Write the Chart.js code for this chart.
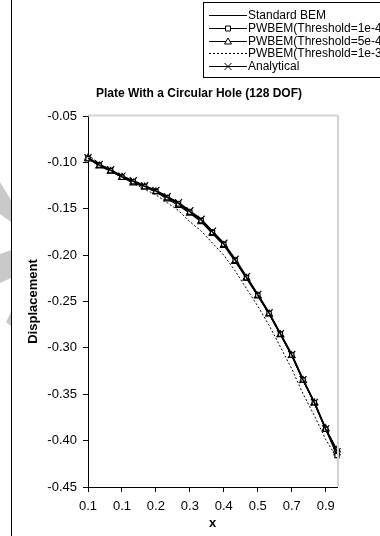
<!DOCTYPE html>
<html>
<head>
<meta charset="utf-8">
<style>
  body { margin: 0; background: #fff; }
  canvas { display: block; }
</style>
<script src="https://cdn.jsdelivr.net/npm/chart.js@4.4.1/dist/chart.umd.min.js"></script>
</head>
<body>
<canvas id="grafico" width="380" height="536"></canvas>
<script>
// x categories (rounded as on the axis), only every 3rd is labelled
const xLabels = ['0.1','0.1','0.1','0.1','0.2','0.2','0.2','0.3','0.3','0.3','0.4','0.4',
                 '0.4','0.5','0.5','0.5','0.6','0.7','0.7','0.8','0.8','0.9','0.9'];

const standardBem = [-0.0956,-0.1028,-0.1085,-0.1154,-0.1204,-0.1258,-0.1308,-0.1376,-0.1441,-0.1530,-0.1621,-0.1750,
                     -0.1880,-0.2052,-0.2238,-0.2429,-0.2626,-0.2849,-0.3075,-0.3345,-0.3590,-0.3876,-0.4117];
const pwbem1e4 = [-0.0960,-0.1032,-0.1090,-0.1160,-0.1210,-0.1262,-0.1313,-0.1382,-0.1448,-0.1538,-0.1628,-0.1756,
                  -0.1886,-0.2058,-0.2243,-0.2433,-0.2630,-0.2852,-0.3078,-0.3347,-0.3591,-0.3877,-0.4160];
const pwbem5e4 = [-0.0952,-0.1040,-0.1095,-0.1160,-0.1222,-0.1265,-0.1318,-0.1395,-0.1465,-0.1548,-0.1640,-0.1768,
                  -0.1895,-0.2068,-0.2250,-0.2440,-0.2636,-0.2858,-0.3082,-0.3350,-0.3592,-0.3870,-0.4100];
const pwbem1e3 = [-0.0920,-0.1010,-0.1085,-0.1165,-0.1225,-0.1290,-0.1350,-0.1435,-0.1520,-0.1640,-0.1740,-0.1870,
                  -0.2000,-0.2170,-0.2360,-0.2550,-0.2756,-0.2990,-0.3225,-0.3495,-0.3730,-0.3986,-0.4190];
const analytical = [-0.0950,-0.1022,-0.1080,-0.1148,-0.1198,-0.1252,-0.1302,-0.1370,-0.1435,-0.1522,-0.1614,-0.1742,
                    -0.1872,-0.2045,-0.2232,-0.2424,-0.2622,-0.2846,-0.3072,-0.3342,-0.3588,-0.3874,-0.4120];

const seriesNames = ['Standard BEM', 'PWBEM(Threshold=1e-4', 'PWBEM(Threshold=5e-4', 'PWBEM(Threshold=1e-3', 'Analytical'];
const yTicks = { min: -0.45, max: -0.05, step: 0.05 };
const tituloGrafico = 'Plate With a Circular Hole (128 DOF)';

const fonte = 'Liberation Sans, Arial, sans-serif';

function marcador(ctx, tipo, x, y) {
    ctx.save();
    ctx.strokeStyle = '#000';
    ctx.fillStyle = '#fff';
    ctx.lineWidth = 1;
    ctx.setLineDash([]);
    ctx.beginPath();
    if (tipo === 'rect') {
        ctx.rect(x - 2.5, y - 2.5, 5, 5);
        ctx.fill(); ctx.stroke();
    } else if (tipo === 'triangle') {
        ctx.moveTo(x, y - 3.5); ctx.lineTo(x + 3.5, y + 2.5); ctx.lineTo(x - 3.5, y + 2.5); ctx.closePath();
        ctx.fill(); ctx.stroke();
    } else if (tipo === 'crossRot') {
        ctx.moveTo(x - 3.5, y - 3.5); ctx.lineTo(x + 3.5, y + 3.5);
        ctx.moveTo(x + 3.5, y - 3.5); ctx.lineTo(x - 3.5, y + 3.5);
        ctx.stroke();
    }
    ctx.restore();
}

// titulo, legenda no canto superior direito e moldura do gráfico
const legendaPlugin = {
    id: 'legendaExcel',
    beforeDraw(chart) {
        const ctx = chart.ctx;
        ctx.save();
        // sombras cinza à esquerda (fundo da figura)
        ctx.fillStyle = '#c9c9c9';
        ctx.beginPath();
        ctx.moveTo(0, 182); ctx.lineTo(11, 200); ctx.lineTo(11, 222); ctx.lineTo(0, 214); ctx.closePath();
        ctx.moveTo(0, 254); ctx.lineTo(11, 250); ctx.lineTo(11, 278); ctx.lineTo(0, 283); ctx.closePath();
        ctx.moveTo(6, 322); ctx.lineTo(11, 312); ctx.lineTo(11, 326); ctx.closePath();
        ctx.fill();
        ctx.restore();
    },
    afterDraw(chart) {
        const ctx = chart.ctx;
        const area = chart.chartArea;
        ctx.save();
        // bordas cinza do plot area (topo e direita)
        ctx.strokeStyle = '#d4d4d4';
        ctx.lineWidth = 2;
        ctx.beginPath();
        ctx.moveTo(area.left, area.top - 0.5); ctx.lineTo(area.right + 1, area.top - 0.5);
        ctx.moveTo(area.right + 1, area.top - 0.5); ctx.lineTo(area.right + 1, area.bottom);
        ctx.stroke();
        // linha da moldura externa
        ctx.strokeStyle = '#000';
        ctx.lineWidth = 1;
        ctx.beginPath();
        ctx.moveTo(11.5, 0); ctx.lineTo(11.5, 536);
        ctx.stroke();
        // titulo
        ctx.fillStyle = '#000';
        ctx.font = 'bold 12px ' + fonte;
        ctx.textAlign = 'center';
        ctx.textBaseline = 'middle';
        ctx.fillText(tituloGrafico, 199, 94);
        // caixa da legenda
        ctx.textAlign = 'left';
        ctx.strokeRect(203.5, 2.5, 200, 75);
        ctx.font = '12px ' + fonte;
        chart.data.datasets.forEach((ds, i) => {
            const y = Math.round(15 + 12.8 * i) + 0.5;
            ctx.strokeStyle = '#000';
            ctx.lineWidth = 1;
            ctx.setLineDash(ds.borderDash || []);
            ctx.beginPath();
            ctx.moveTo(209, y); ctx.lineTo(247, y);
            ctx.stroke();
            ctx.setLineDash([]);
            if (ds.pointRadius > 0) marcador(ctx, ds.pointStyle, 228, y);
            ctx.fillText(ds.label, 248, y + 0.5);
        });
        ctx.restore();
    }
};

const valores = [standardBem, pwbem1e4, pwbem5e4, pwbem1e3, analytical];
const estilos = [
    { pointRadius: 0, borderWidth: 1.6 },
    { pointStyle: 'rect', pointRadius: 3, borderWidth: 1.2 },
    { pointStyle: 'triangle', pointRadius: 3.8, borderWidth: 1.2 },
    { pointRadius: 0, borderWidth: 1, borderDash: [2, 2] },
    { pointStyle: 'crossRot', pointRadius: 5, borderWidth: 1.6 }
];

new Chart(document.getElementById('grafico').getContext('2d'), {
    type: 'line',
    data: {
        labels: xLabels,
        datasets: valores.map((v, i) => Object.assign({
            label: seriesNames[i],
            data: v,
            borderColor: '#000',
            tension: 0,
            pointBorderColor: '#000',
            pointBackgroundColor: '#fff',
            pointBorderWidth: 1.2,
            pointHoverRadius: 0
        }, estilos[i]))
    },
    options: {
        responsive: false,
        animation: false,
        events: [],
        layout: { padding: { top: 116, left: 0, right: 43, bottom: 0 } },
        plugins: {
            legend: { display: false },
            tooltip: { enabled: false },
            title: { display: false }
        },
        scales: {
            x: {
                type: 'category',
                offset: false,
                afterBuildTicks: axis => { axis.ticks = axis.ticks.filter(t => t.value % 3 === 0); },
                afterFit: axis => { axis.height = 49; },
                border: { color: '#000', width: 1 },
                grid: { drawOnChartArea: false, color: '#000', tickLength: 5 },
                ticks: { autoSkip: false, maxRotation: 0, padding: 7, color: '#000', font: { family: fonte, size: 13 } },
                title: { display: true, text: 'x', color: '#000', font: { family: fonte, size: 13, weight: 'bold' }, padding: { top: 0, bottom: 5 } }
            },
            y: {
                min: yTicks.min,
                max: yTicks.max,
                afterFit: axis => { axis.width = 88; },
                border: { color: '#000', width: 1 },
                grid: { drawOnChartArea: false, color: '#000', tickLength: 5 },
                ticks: {
                    stepSize: yTicks.step,
                    padding: 6,
                    color: '#000',
                    font: { family: fonte, size: 13 },
                    callback: v => v.toFixed(2)
                },
                title: { display: true, text: 'Displacement', color: '#000', font: { family: fonte, size: 13, weight: 'bold' }, padding: { top: 26, bottom: 0 } }
            }
        }
    },
    plugins: [legendaPlugin]
});
</script>
</body>
</html>
